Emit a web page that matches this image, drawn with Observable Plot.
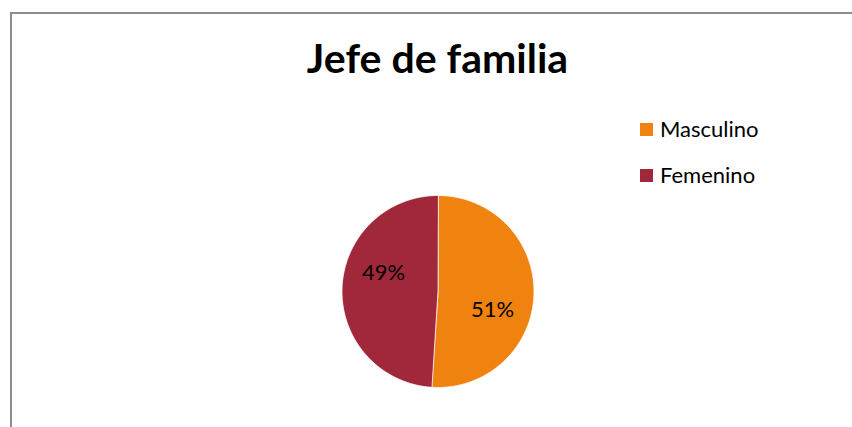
<!DOCTYPE html>
<html><head><meta charset="utf-8">
<script src="https://cdn.jsdelivr.net/npm/d3@7"></script>
<script src="https://cdn.jsdelivr.net/npm/@observablehq/plot@0.6"></script>
<style>
body{margin:0;background:#fff;}
#wrap{position:relative;width:852px;height:427px;overflow:hidden;font-family:Lato,sans-serif;color:#000;}
#frame{position:absolute;left:10px;top:12px;width:900px;height:500px;border-left:2px solid #8c8c8c;border-top:2px solid #8c8c8c;pointer-events:none;}
#title{position:absolute;left:0;width:875px;top:37px;line-height:41px;text-align:center;font-weight:bold;font-size:41px;}
#chart{position:absolute;left:0;top:0;}
.leg{position:absolute;left:640px;height:28px;line-height:28px;display:flex;align-items:center;font-size:22px;white-space:nowrap;}
.leg span.sw{display:inline-block;width:13px;height:13px;margin-right:7px;}
</style></head>
<body>
<div id="wrap">
  <div id="chart"></div>
  <div id="title">Jefe de familia</div>
  <div id="legend"></div>
  <div id="frame"></div>
</div>
<script>
const title = "Jefe de familia";
const categories = ["Masculino", "Femenino"];
const values = [51, 49];
const colors = ["#F0820F", "#A0283A"];

const pie = d3.pie().sort(null).value(d => d)(values);
const total = d3.sum(values);
const rows = [];
pie.forEach((a, i) => {
  rows.push({cat: categories[i], x: 0, y: 0});
  const n = 120;
  for (let k = 0; k <= n; k++) {
    const t = a.startAngle + (a.endAngle - a.startAngle) * k / n;
    rows.push({cat: categories[i], x: Math.sin(t), y: Math.cos(t)});
  }
});
const labels = pie.map((a, i) => {
  const t = (a.startAngle + a.endAngle) / 2 + 0.3;
  return {label: Math.round(values[i] / total * 100) + "%", x: 0.6 * Math.sin(t), y: 0.6 * Math.cos(t)};
});

const chart = Plot.plot({
  width: 852, height: 427,
  marginLeft: 341.5, marginRight: 318.5, marginTop: 195, marginBottom: 40,
  x: {domain: [-1, 1], axis: null},
  y: {domain: [-1, 1], axis: null},
  color: {domain: categories, range: colors},
  style: {background: "transparent"},
  marks: [
    Plot.line(rows, {x: "x", y: "y", z: "cat", fill: "cat", stroke: "white", strokeWidth: 0.75, curve: "linear-closed"}),
    Plot.text(labels, {x: "x", y: "y", text: "label", fontSize: 22, fill: "black", fontFamily: "Lato"})
  ]
});
document.getElementById("chart").appendChild(chart);

const leg = document.getElementById("legend");
categories.forEach((c, i) => {
  const d = document.createElement("div");
  d.className = "leg";
  d.style.top = (115 + i * 46) + "px";
  d.innerHTML = `<span class="sw" style="background:${colors[i]}"></span>${c}`;
  leg.appendChild(d);
});
</script>
</body></html>
